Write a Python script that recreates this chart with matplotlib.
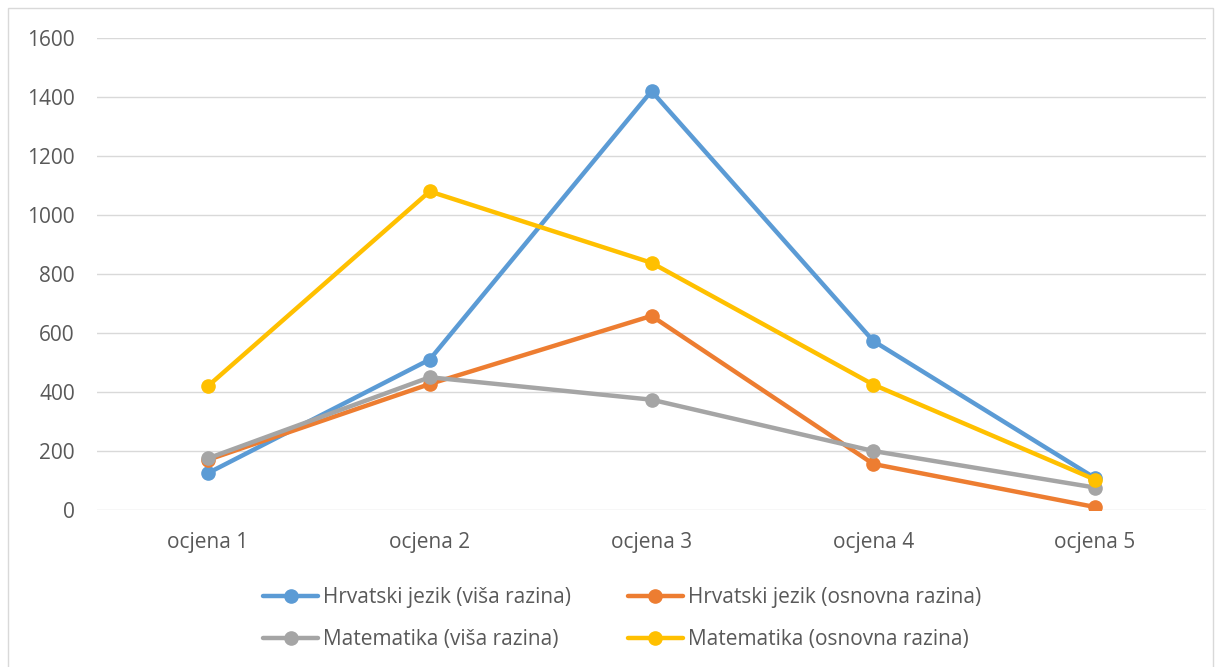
import matplotlib

matplotlib.use("Agg")
import matplotlib.pyplot as plt
from matplotlib.patches import Rectangle

categories = ["ocjena 1", "ocjena 2", "ocjena 3", "ocjena 4", "ocjena 5"]
hrv_visa = [125, 510, 1420, 573, 108]
hrv_osnovna = [170, 427, 658, 156, 10]
mat_visa = [175, 450, 374, 200, 76]
mat_osnovna = [420, 1080, 838, 425, 103]

series = [
    ("Hrvatski jezik (viša razina)", hrv_visa, "#5B9BD5"),
    ("Hrvatski jezik (osnovna razina)", hrv_osnovna, "#ED7D31"),
    ("Matematika (viša razina)", mat_visa, "#A5A5A5"),
    ("Matematika (osnovna razina)", mat_osnovna, "#FFC000"),
]

plt.rcParams["font.family"] = ["Open Sans", "DejaVu Sans"]

W, H = 1222, 667
fig = plt.figure(figsize=(W / 100, H / 100), dpi=100)
fig.patch.set_facecolor("white")

# chart border like Excel
fig.patches.append(Rectangle((8 / W, -0.01), (1213 - 8) / W, (H - 8) / H + 0.01,
                             transform=fig.transFigure, fill=False,
                             edgecolor="#D9D9D9", linewidth=1))

ax = fig.add_axes([97 / W, (H - 510) / H, (1206 - 97) / W, (510 - 38) / H])
x = range(len(categories))
lines = []
for label, vals, color in series:
    (ln,) = ax.plot(x, vals, color=color, linewidth=3.2, marker="o", markersize=9.5,
                    solid_capstyle="round", label=label)
    lines.append(ln)

ax.set_xlim(-0.5, len(categories) - 0.5)
ax.set_ylim(0, 1600)
ax.set_yticks(range(0, 1601, 200))
ax.set_xticks(list(x))
ax.set_xticklabels(categories)
ax.grid(axis="y", color="#D9D9D9", linewidth=1)
ax.set_axisbelow(True)
for s in ax.spines.values():
    s.set_visible(False)
ax.tick_params(axis="both", length=0, labelsize=15, colors="#595959")
ax.tick_params(axis="y", pad=16)
ax.tick_params(axis="x", pad=16)

# legend filled column-wise, so reorder to get row-wise reading order
order = [0, 2, 1, 3]
fig.legend([lines[i] for i in order], [series[i][0] for i in order],
           loc="upper left", bbox_to_anchor=(263 / W, 1 - 587 / H), ncol=2,
           frameon=False, fontsize=15, labelcolor="#595959",
           handlelength=2.65, handletextpad=0.25, columnspacing=2.7,
           labelspacing=1.0, borderaxespad=0, borderpad=0)

fig.savefig("out.png", dpi=100)
